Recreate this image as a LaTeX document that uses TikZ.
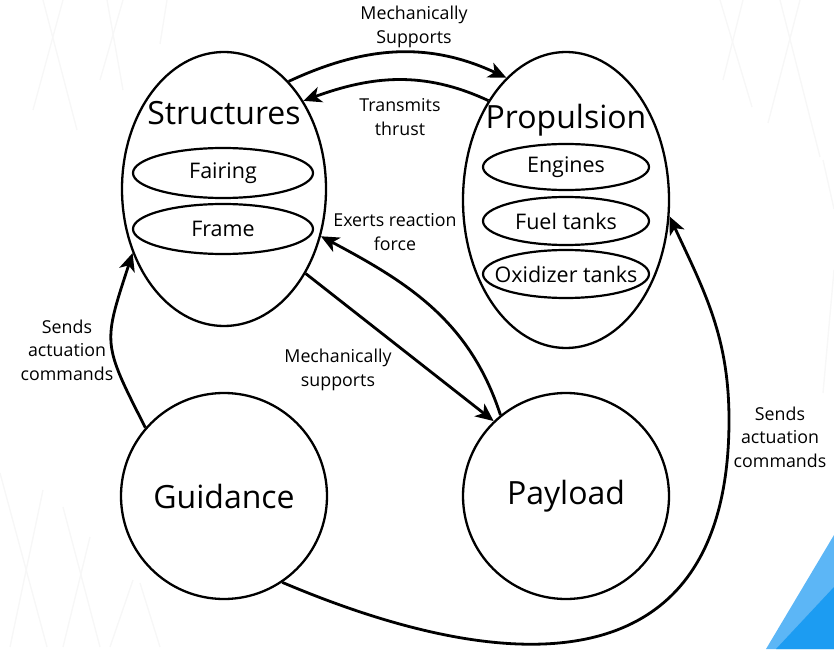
\documentclass[tikz,border=0pt]{standalone}
\usepackage{fontspec}
\setmainfont{Open Sans}
\usetikzlibrary{shapes.geometric,arrows.meta}
\definecolor{cornerlight}{HTML}{5CB6F6}
\definecolor{cornerdark}{HTML}{1C9CF2}
\definecolor{faint}{HTML}{F7F7F7}
\begin{document}
\begin{tikzpicture}[x=1pt,y=1pt,
  outer/.style={draw,ellipse,line width=2.3pt,inner sep=0pt},
  part/.style={draw,ellipse,line width=2.2pt,inner sep=0pt},
  partlabel/.style={font=\fontsize{21.5}{25}\selectfont},
  title/.style={font=\fontsize{32}{38}\selectfont,inner sep=0pt},
  block/.style={draw,circle,line width=2.3pt,minimum size=206pt,inner sep=0pt,font=\fontsize{32}{38}\selectfont},
  link/.style={line width=2.8pt,-{Stealth[length=18pt,width=16pt,inset=5pt]}},
  lbl/.style={font=\fontsize{17.8}{23.5}\selectfont,align=center,inner sep=0pt},
  deco/.style={draw=faint,line width=1.4pt}]
\useasboundingbox (0,0) rectangle (834,649);

% faint background strokes
\draw[deco] (43,649) -- (77,519);
\draw[deco] (63,649) -- (33,539);
\draw[deco] (107,649) -- (123,559);
\draw[deco] (123,649) -- (100,569);
\draw[deco] (167,649) -- (160,605);
\draw[deco] (720,649) -- (752,542);
\draw[deco] (743,649) -- (723,569);
\draw[deco] (780,649) -- (820,492);
\draw[deco] (800,649) -- (768,526);
\draw[deco] (823,489) -- (834,440);
\draw[deco] (834,379) -- (823,256);
\draw[deco] (0,176) -- (47,2);
\draw[deco] (43,159) -- (10,2);
\draw[deco] (63,142) -- (100,2);
\draw[deco] (90,112) -- (63,2);
\draw[deco] (133,69) -- (110,2);
\draw[deco] (140,66) -- (160,2);

% blue corner
\fill[cornerlight] (834,114) -- (834,0) -- (766,0) -- cycle;
\fill[cornerdark] (834,62) -- (834,0) -- (776,0) -- cycle;

% structures
\node[outer,minimum width=204pt,minimum height=274pt] (struct) at (224,460) {};
\node[title] (structT) at (224,536) {Structures};
\node[part,minimum width=180pt,minimum height=50pt,label={[partlabel]center:Fairing}] (fair) at (223,476) {};
\node[part,minimum width=180pt,minimum height=50pt,label={[partlabel]center:Frame}] (frame) at (223,420) {};

% propulsion
\node[outer,minimum width=206pt,minimum height=296pt] (prop) at (566,449) {};
\node[title] (propT) at (566,529) {Propulsion};
\node[part,minimum width=166pt,minimum height=46pt,label={[partlabel]center:Engines}] (eng) at (566,482) {};
\node[part,minimum width=166pt,minimum height=48pt,label={[partlabel]center:Fuel tanks}] (fuel) at (566,428) {};
\node[part,minimum width=166pt,minimum height=48pt,label={[partlabel]center:Oxidizer tanks}] (oxid) at (566,375) {};

% guidance and payload
\node[block] (guid) at (224,153) {Guidance};
\node[block] (pay) at (566,153) {Payload};

\coordinate (turn) at (729,229);

% connectors
\draw[link] (struct.59) to[out=25,in=155] (prop.116);
\draw[link] (prop.128) to[out=155,in=20] (struct.48);
\draw[link] (pay.129) to[out=108,in=-28] (struct.-26);
\draw[link] (struct.-46) -- (pay.134);
\draw[link] (guid.139) to[out=117,in=-108,looseness=1.4] (struct.215);
\draw[link] (guid.-56) to[out=-23,in=-90,looseness=1.4] (turn) to[out=90,in=-65] (prop.-9);

% connector labels
\node[lbl] (l1) at (414,622) {Mechanically\\Supports};
\node[lbl] (l2) at (400,532) {Transmits\\thrust};
\node[lbl] (l3) at (395,417) {Exerts reaction\\force};
\node[lbl] (l4) at (338,279) {Mechanically\\supports};
\node[lbl] (l5) at (67,299) {Sends\\actuation\\commands};
\node[lbl] (l6) at (780,212) {Sends\\actuation\\commands};
\end{tikzpicture}
\end{document}
